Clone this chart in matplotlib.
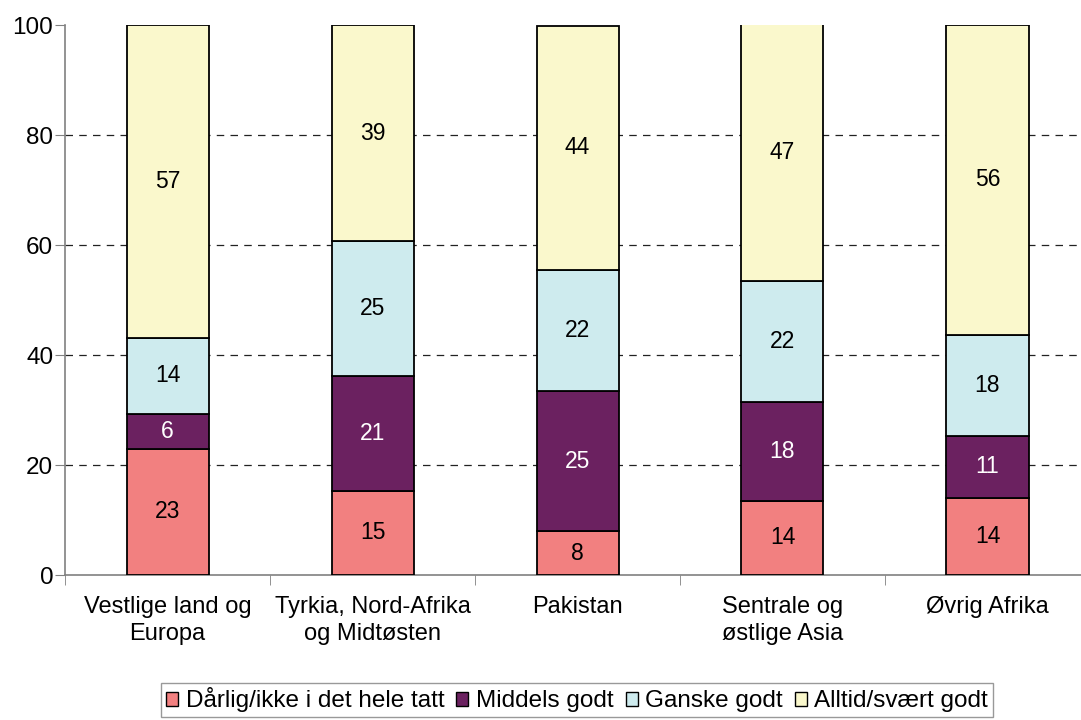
import matplotlib
matplotlib.use("Agg")
import matplotlib.pyplot as plt
import numpy as np

plt.rcParams['font.family'] = ['Liberation Sans', 'DejaVu Sans']

categories = ["Vestlige land og\nEuropa", "Tyrkia, Nord-Afrika\nog Midtøsten", "Pakistan",
              "Sentrale og\nøstlige Asia", "Øvrig Afrika"]
series_names = ["Dårlig/ikke i det hele tatt", "Middels godt", "Ganske godt", "Alltid/svært godt"]
darlig = [23.0, 15.3, 8.0, 13.5, 14.0]
middels = [6.3, 20.8, 25.4, 17.9, 11.3]
ganske = [13.8, 24.6, 22.1, 22.1, 18.4]
alltid = [56.9, 39.3, 44.4, 46.6, 56.3]
yticks = [0, 20, 40, 60, 80, 100]

series = [darlig, middels, ganske, alltid]
colors = ["#F28080", "#6B2160", "#CEEBEE", "#FAF8CC"]
text_colors = ["black", "white", "black", "black"]

fig = plt.figure(figsize=(10.81, 7.2), dpi=100)
ax = fig.add_axes([65/1081, 145/720, 1025/1081, 550/720])

x = np.arange(len(categories))
bottom = np.zeros(len(categories))
handles = []
for vals, col, tc, name in zip(series, colors, text_colors, series_names):
    vals = np.array(vals)
    b = ax.bar(x, vals, 0.4, bottom=bottom, color=col, edgecolor="black", linewidth=1.3,
               label=name, zorder=3)
    handles.append(b)
    for xi, v, bt in zip(x, vals, bottom):
        ax.text(xi, bt + v / 2, f"{int(round(v))}", ha="center", va="center",
                fontsize=16.5, color=tc, zorder=4)
    bottom += vals

ax.set_xlim(-0.5, len(categories) - 0.5)
ax.set_ylim(0, 100)
ax.set_yticks(yticks)
ax.tick_params(axis='y', labelsize=17.5, length=7, color="#808080", pad=1.5)
for yv in yticks[1:-1]:
    ax.axhline(yv, color="#222222", linestyle=(0, (6, 5)), linewidth=0.9, zorder=1)

ax.set_xticks(x)
ax.set_xticklabels(categories, fontsize=17, linespacing=1.32)
ax.tick_params(axis='x', length=0, pad=15)
ax.set_xticks(np.arange(len(categories) + 1) - 0.5, minor=True)
ax.tick_params(axis='x', which='minor', length=7, color="#808080")

for s in ["top", "right"]:
    ax.spines[s].set_visible(False)
for s in ["left", "bottom"]:
    ax.spines[s].set_color("#808080")
    ax.spines[s].set_linewidth(1.2)

leg = fig.legend(handles=handles, loc="center", bbox_to_anchor=(577/1081, 1 - 700/720),
                 ncol=4, fontsize=17.5, frameon=True, fancybox=False, edgecolor="#808080",
                 handlelength=0.5, handleheight=0.5, handletextpad=0.3, columnspacing=0.5,
                 borderpad=0.2, borderaxespad=0)
leg.get_frame().set_linewidth(1.0)
for patch in leg.get_patches():
    patch.set_linewidth(1.0)

fig.savefig("out.png", dpi=100)
